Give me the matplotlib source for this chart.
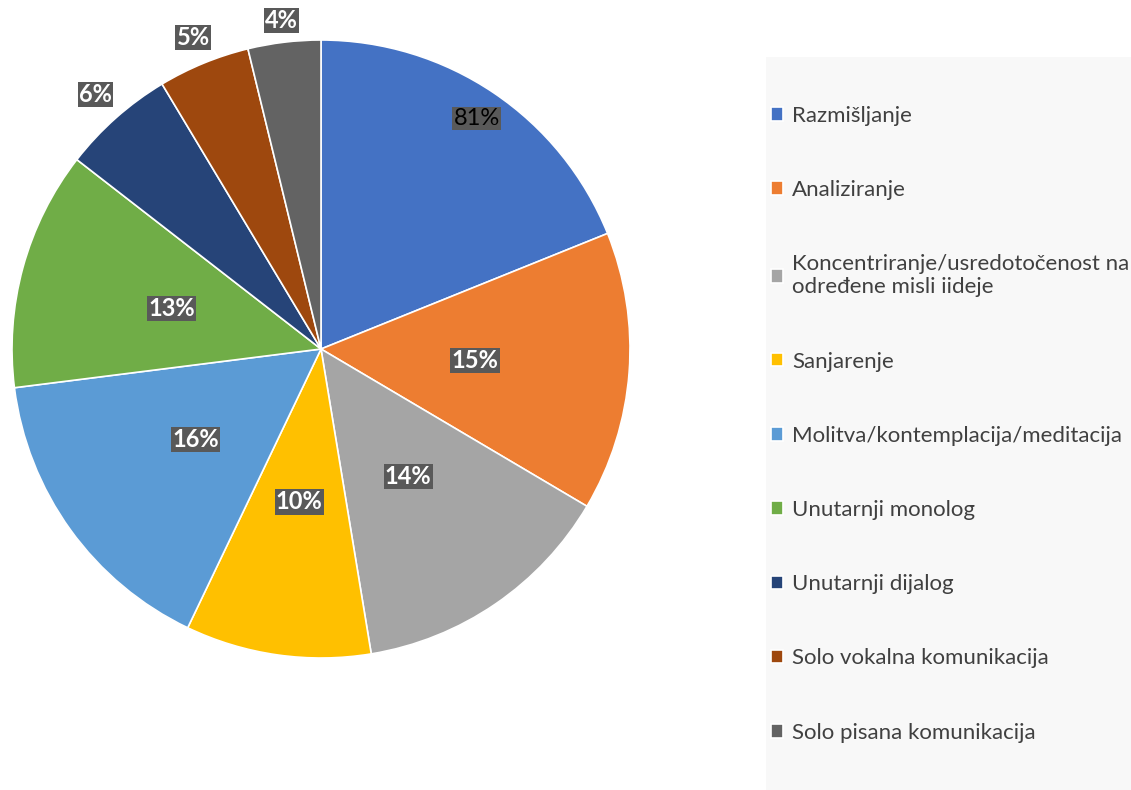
import matplotlib
matplotlib.use("Agg")
import numpy as np
from matplotlib import pyplot as plt
from matplotlib.patches import Rectangle

plt.rcParams["font.family"] = ["Lato", "DejaVu Sans"]

# podaci (udjeli očitani s grafikona)
categories = [
    "Razmišljanje",
    "Analiziranje",
    "Koncentriranje/usredotočenost na\nodređene misli iideje",
    "Sanjarenje",
    "Molitva/kontemplacija/meditacija",
    "Unutarnji monolog",
    "Unutarnji dijalog",
    "Solo vokalna komunikacija",
    "Solo pisana komunikacija",
]
shares = [18.9, 14.6, 13.9, 9.7, 15.9, 12.5, 5.9, 4.8, 3.8]
pct_labels = ["81%", "15%", "14%", "10%", "16%", "13%", "6%", "5%", "4%"]

colors = ["#4472C4", "#ED7D31", "#A5A5A5", "#FFC000", "#5B9BD5",
          "#70AD47", "#264478", "#9E480E", "#636363"]
label_dist = [0.9, 0.5, 0.5, 0.5, 0.5, 0.5, 1.1, 1.09, 1.07]

W, H = 1131, 790
fig = plt.figure(figsize=(W / 100, H / 100), dpi=100)
ax = fig.add_axes([0, 0, 1, 1])
ax.set_xlim(0, W)
ax.set_ylim(0, H)
ax.set_aspect("equal")
ax.axis("off")

# pozadina legende
ax.add_patch(Rectangle((766, 0), W - 766, H - 57, facecolor="#f8f8f8", edgecolor="none"))

cx, cy, r = 321, H - 349, 309
wedges, _ = ax.pie(shares, colors=colors, startangle=90, counterclock=False,
                   center=(cx, cy), radius=r,
                   wedgeprops=dict(edgecolor="white", linewidth=1.2))
ax.set_xlim(0, W)
ax.set_ylim(0, H)

for w, lab, d in zip(wedges, pct_labels, label_dist):
    ang = np.deg2rad((w.theta1 + w.theta2) / 2)
    x = cx + d * r * np.cos(ang)
    y = cy + d * r * np.sin(ang)
    if lab == "81%":
        ax.text(x, y, lab, ha="center", va="center", fontsize=17, color="black",
                bbox=dict(boxstyle="square,pad=0.05", facecolor="#595959", edgecolor="none"))
    else:
        ax.text(x, y, lab, ha="center", va="center", fontsize=17, color="white",
                fontweight="bold",
                bbox=dict(boxstyle="square,pad=0.05", facecolor="#595959", edgecolor="none"))

leg = fig.legend(wedges, categories, loc="center left", bbox_to_anchor=(0.664, 0.463),
                 frameon=False, fontsize=16, labelspacing=2.44, handlelength=0.55,
                 handleheight=0.55, handletextpad=0.4, labelcolor="#404040")

fig.savefig("out.png", dpi=100)
